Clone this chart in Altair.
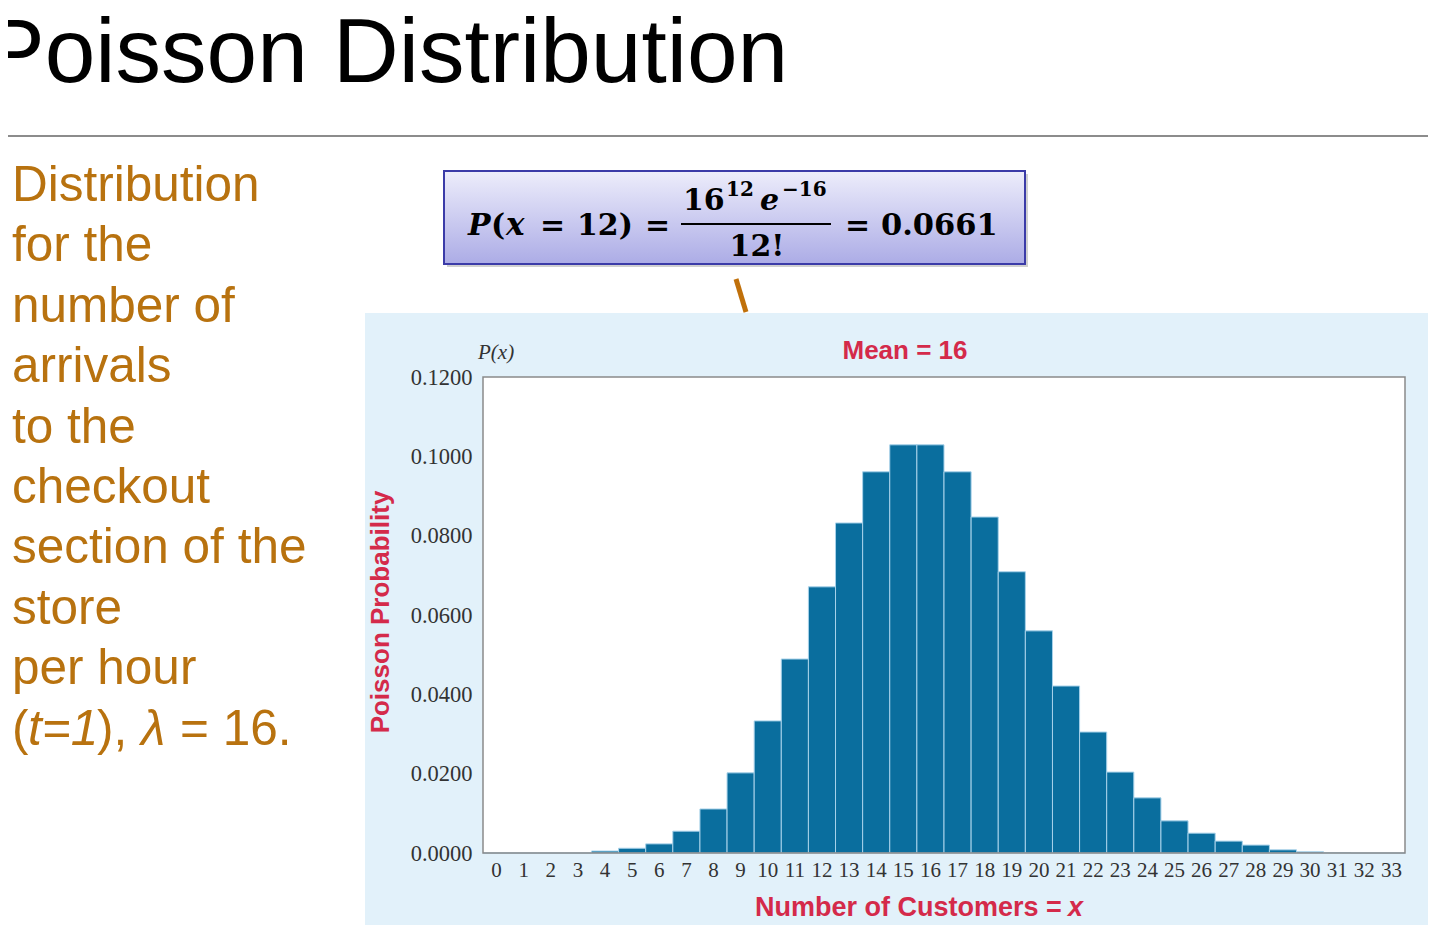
import altair as alt
import pandas as pd

# ---- data ----
customers = list(range(34))
probabilities = [0.0000, 0.0000, 0.0000, 0.0000, 0.0005, 0.0012, 0.0023, 0.0055,
                 0.0111, 0.0202, 0.0333, 0.0489, 0.0671, 0.0832, 0.0961, 0.1029,
                 0.1029, 0.0961, 0.0847, 0.0709, 0.0560, 0.0421, 0.0305, 0.0204,
                 0.0139, 0.0081, 0.0050, 0.0030, 0.0020, 0.0008, 0.0003, 0.0001,
                 0.0000, 0.0000]
y_ticks = [0.0, 0.02, 0.04, 0.06, 0.08, 0.10, 0.12]
side_lines = ["Distribution", "for the", "number of", "arrivals", "to the",
              "checkout", "section of the", "store", "per hour"]
slide_title = "Poisson Distribution"
chart_title = "Mean = 16"
y_title = "Poisson Probability"
x_title = "Number of Customers ="

df = pd.DataFrame({"x": customers, "p": probabilities})
one = pd.DataFrame({"a": [0]})

# plot-area origin in page pixels
OX, OY = 483, 377
W, H = 922, 476

ORANGE = "#B8720F"
RED = "#D42A4A"
BLUE_BG = "#E2F1FA"


def txt(s, x, y, size, color, font="Liberation Sans", weight="normal",
        style="normal", align="left", baseline="alphabetic", angle=0):
    return alt.Chart(one).mark_text(
        text=s, font=font, fontSize=size, fontWeight=weight, fontStyle=style,
        color=color, align=align, baseline=baseline, angle=angle
    ).encode(x=alt.value(x - OX), y=alt.value(y - OY))


def rect(x1, y1, x2, y2, **kw):
    return alt.Chart(one).mark_rect(**kw).encode(
        x=alt.value(x1 - OX), x2=alt.value(x2 - OX),
        y=alt.value(y1 - OY), y2=alt.value(y2 - OY))


def rule(x1, y1, x2, y2, **kw):
    return alt.Chart(one).mark_rule(**kw).encode(
        x=alt.value(x1 - OX), x2=alt.value(x2 - OX),
        y=alt.value(y1 - OY), y2=alt.value(y2 - OY))


layers = []

# slide title and underline
layers.append(txt(slide_title, -16, 82, 91, "#000000"))
layers.append(rule(0, 136, 1440, 136, color="#8C8C8C", strokeWidth=2))

# left orange text
for i, line in enumerate(side_lines):
    layers.append(txt(line, 12, 201 + 60.4 * i, 49.5, ORANGE))
by = 201 + 60.4 * 9
layers.append(txt("(", 12, by, 49.5, ORANGE))
layers.append(txt("t=1", 28, by, 49.5, ORANGE, style="italic"))
layers.append(txt("),", 97, by, 49.5, ORANGE))
layers.append(txt("λ", 141, by, 49.5, ORANGE, style="italic"))
layers.append(txt("= 16.", 180, by, 49.5, ORANGE))

# formula box
grad = alt.Gradient(gradient="linear",
                    stops=[alt.GradientStop(color="#EDEDFB", offset=0),
                           alt.GradientStop(color="#ACACE6", offset=1)],
                    x1=0, x2=0, y1=0, y2=1)
layers.append(rect(447, 174, 1028, 267, color="#777777", opacity=0.35))
layers.append(rect(444, 171, 1025, 264, fill=grad, stroke="#3B3BA8", strokeWidth=2))
FF = "DejaVu Serif"
layers.append(txt("P", 468, 235, 30, "#000", font=FF, weight="bold", style="italic"))
layers.append(txt("(", 491, 235, 30, "#000", font=FF, weight="bold"))
layers.append(txt("x", 506, 235, 31, "#000", font=FF, weight="bold", style="italic"))
layers.append(txt("=", 540, 235, 30, "#000", font=FF, weight="bold"))
layers.append(txt("12)", 577, 235, 30, "#000", font=FF, weight="bold"))
layers.append(txt("=", 645, 235, 30, "#000", font=FF, weight="bold"))
layers.append(txt("16", 683, 210, 30, "#000", font=FF, weight="bold"))
layers.append(txt("12", 726, 196, 20, "#000", font=FF, weight="bold"))
layers.append(txt("e", 760, 210, 30, "#000", font=FF, weight="bold", style="italic"))
layers.append(txt("−16", 782, 196, 20, "#000", font=FF, weight="bold"))
layers.append(rule(681, 224, 831, 224, color="#000", strokeWidth=2))
layers.append(txt("12!", 757, 256, 30, "#000", font=FF, weight="bold", align="center"))
layers.append(txt("=", 845, 235, 30, "#000", font=FF, weight="bold"))
layers.append(txt("0.0661", 881, 235, 30.5, "#000", font=FF, weight="bold"))

# connector
layers.append(rule(736, 279, 746, 312, color="#C0700A", strokeWidth=5))

# chart panel
layers.append(rect(365, 313, 1432, 960, color=BLUE_BG))
layers.append(rect(OX, OY, OX + W, OY + H, color="#FFFFFF"))

bars = alt.Chart(df).mark_bar(color="#0A6E9E", stroke="#A8D2EA", strokeWidth=1).encode(
    x=alt.X("x:O", sort=customers,
            scale=alt.Scale(paddingInner=0, paddingOuter=0),
            axis=alt.Axis(title=None, labelAngle=0, ticks=False, domain=False,
                          grid=False, labelFont="Liberation Serif", labelFontSize=21,
                          labelColor="#333333", labelPadding=6, zindex=1)),
    y=alt.Y("p:Q", scale=alt.Scale(domain=[0, 0.12], nice=False),
            axis=alt.Axis(title=None, values=y_ticks, format=".4f", ticks=False,
                          domain=False, grid=False, labelFont="Liberation Serif",
                          labelFontSize=22.5, labelColor="#333333", labelPadding=11,
                          zindex=1)),
)
layers.append(bars)
layers.append(rect(OX, OY, OX + W, OY + H, fillOpacity=0, stroke="#8A8A8A", strokeWidth=1.5))

# chart texts
layers.append(txt("P(x)", 478, 359, 21, "#333333", font="Liberation Serif", style="italic"))
layers.append(txt(chart_title, 905, 359, 26, RED, weight="bold", align="center"))
layers.append(txt(y_title, 381, 612, 26, RED, weight="bold", align="center",
                  baseline="middle", angle=270))
layers.append(txt(x_title, 755, 916, 27, RED, weight="bold"))
layers.append(txt("x", 1068, 916, 27, RED, weight="bold", style="italic"))

chart = alt.layer(*layers).properties(
    width=W, height=H,
    padding={"left": OX - 8, "top": OY - 8, "right": 1420 - (OX - 8) - W,
             "bottom": 917 - (OY - 8) - H},
    autosize=alt.AutoSizeParams(type="none"),
).configure(background="#FFFFFF").configure_view(stroke=None)

chart.save("out.html", embed_options={"renderer": "svg", "actions": False})
